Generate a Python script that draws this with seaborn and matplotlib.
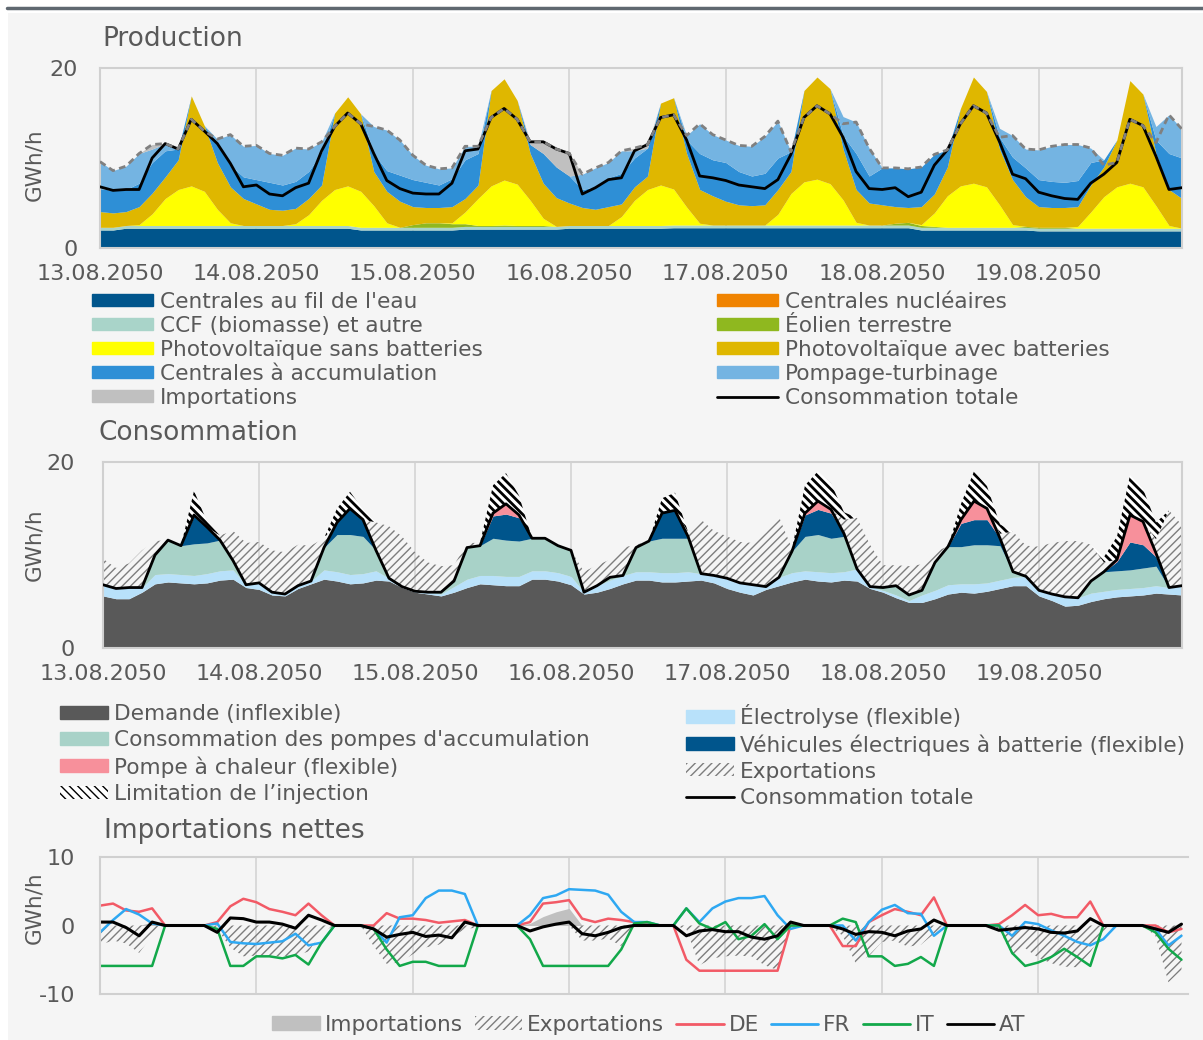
import numpy as np
import pandas as pd
import matplotlib
matplotlib.use("Agg")
import matplotlib.pyplot as plt
import seaborn as sns
from matplotlib.patches import Patch, Rectangle
from matplotlib.lines import Line2D

# ---------------------------------------------------------------- data
# two-hourly steps over one week (13.08.2050 00:00 -> 19.08.2050 22:00)
hours = list(range(0, 168, 2))
day_ticks = [0, 24, 48, 72, 96, 120, 144]
day_labels = ["13.08.2050", "14.08.2050", "15.08.2050", "16.08.2050",
              "17.08.2050", "18.08.2050", "19.08.2050"]

# ---- production (GWh/h)
fil_eau = [2.0, 2.0, 2.2, 2.2, 2.2, 2.2, 2.2, 2.2, 2.2, 2.2, 2.2, 2.2,
           2.2, 2.2, 2.2, 2.2, 2.2, 2.2, 2.2, 2.2, 2.0, 2.0, 2.0, 2.0,
           2.0, 2.0, 2.0, 2.0, 2.1, 2.1, 2.1, 2.1, 2.1, 2.1, 2.1, 2.1,
           2.2, 2.2, 2.2, 2.2, 2.2, 2.2, 2.2, 2.2, 2.25, 2.25, 2.25, 2.25,
           2.25, 2.25, 2.25, 2.25, 2.25, 2.25, 2.25, 2.25, 2.25, 2.25, 2.25, 2.25,
           2.25, 2.25, 2.25, 2.0, 2.0, 2.0, 2.0, 2.0, 2.0, 2.0, 2.0, 2.0,
           1.9, 1.9, 1.9, 1.9, 1.9, 1.9, 1.9, 1.9, 1.9, 1.9, 1.9, 1.9]
nucleaire = [0.0] * 84
ccf = [0.3, 0.3, 0.3, 0.3, 0.3, 0.3, 0.3, 0.3, 0.3, 0.3, 0.3, 0.3,
       0.3, 0.3, 0.3, 0.3, 0.3, 0.3, 0.3, 0.3, 0.3, 0.3, 0.3, 0.3,
       0.3, 0.3, 0.3, 0.3, 0.3, 0.3, 0.3, 0.3, 0.3, 0.3, 0.3, 0.3,
       0.3, 0.3, 0.3, 0.3, 0.3, 0.3, 0.3, 0.3, 0.3, 0.3, 0.3, 0.3,
       0.3, 0.3, 0.3, 0.3, 0.3, 0.3, 0.3, 0.3, 0.3, 0.3, 0.3, 0.3,
       0.3, 0.3, 0.3, 0.3, 0.3, 0.3, 0.3, 0.3, 0.3, 0.3, 0.3, 0.3,
       0.3, 0.3, 0.3, 0.3, 0.3, 0.3, 0.3, 0.3, 0.3, 0.3, 0.3, 0.3]
eolien = [0, 0, 0, 0, 0, 0, 0, 0, 0, 0, 0, 0,
          0, 0, 0, 0, 0, 0, 0, 0, 0, 0, 0, 0,
          0.3, 0.5, 0.5, 0.4, 0.3, 0.1, 0.1, 0.15, 0.1, 0.1, 0.1, 0,
          0, 0, 0, 0, 0, 0, 0, 0, 0, 0, 0, 0,
          0, 0, 0, 0, 0, 0, 0, 0, 0, 0, 0, 0,
          0, 0.2, 0.3, 0.2, 0.1, 0, 0, 0, 0, 0, 0, 0.1,
          0.1, 0.1, 0.1, 0, 0, 0, 0, 0, 0, 0, 0, 0]
pv_sans = [0, 0, 0, 0.1, 1.3, 3.0, 4.0, 4.4, 3.8, 1.8, 0.3, 0,
           0, 0, 0, 0.2, 1.2, 2.8, 4.0, 4.4, 4.0, 2.4, 0.5, 0,
           0, 0, 0, 0.1, 1.3, 3.0, 4.4, 5.0, 4.6, 2.8, 0.8, 0,
           0, 0, 0, 0, 1.0, 2.8, 4.0, 4.5, 4.0, 2.0, 0.2, 0,
           0, 0, 0, 0, 1.2, 3.5, 4.8, 5.1, 4.6, 2.8, 0.3, 0,
           0, 0, 0, 0.1, 1.5, 3.5, 4.6, 4.9, 4.5, 2.5, 0.3, 0,
           0, 0, 0, 0.2, 1.8, 3.5, 4.6, 5.0, 4.6, 2.5, 0.3, 0]
pv_avec = [1.75, 1.6, 1.55, 2.0, 2.3, 2.4, 3.3, 10.0, 7.3, 5.2, 4.0, 3.0,
           2.4, 1.8, 1.7, 1.7, 1.8, 1.7, 8.5, 9.9, 8.6, 3.8, 3.5, 2.9,
           2.0, 1.7, 1.7, 1.8, 1.5, 1.5, 10.6, 11.25, 9.3, 5.2, 3.9, 3.2,
           2.5, 2.0, 1.8, 2.1, 1.4, 1.5, 1.5, 9.1, 10.15, 5.95, 3.75, 3.25,
           2.65, 2.25, 2.15, 2.25, 2.75, 2.45, 10.15, 11.35, 10.55, 5.65, 3.65, 2.45,
           2.25, 1.85, 1.65, 2.0, 2.1, 3.2, 8.6, 11.8, 10.6, 6.2, 5.0, 3.3,
           2.3, 2.2, 2.2, 2.2, 3.0, 3.3, 5.2, 11.4, 10.3, 5.8, 4.0, 3.3]
accumulation = [2.55, 2.5, 2.45, 2.6, 3.4, 2.9, 1.2, 0, 0, 2.0, 2.4, 2.4,
                2.7, 3.0, 2.8, 3.0, 3.0, 3.6, 0, 0, 0, 2.0, 2.3, 2.9,
                3.0, 2.8, 2.5, 3.1, 4.3, 3.5, 0, 0, 0, 1.0, 3.3, 3.4,
                3.0, 2.0, 2.5, 3.2, 3.4, 3.2, 3.1, 0, 0, 1.5, 4.0, 4.0,
                4.3, 3.7, 3.3, 3.5, 3.5, 2.2, 0, 0, 0, 1.5, 4.0, 3.0,
                4.1, 4.3, 4.3, 4.4, 4.4, 1.9, 0, 0, 0, 1.3, 2.5, 3.2,
                3.0, 2.9, 2.8, 2.9, 2.5, 0.8, 0, 0, 0, 1.5, 4.0, 4.5]
pompage = [3.0, 2.2, 2.6, 3.3, 1.5, 0.8, 0, 0, 0, 0.6, 3.4, 3.4,
           3.8, 3.2, 3.3, 3.7, 2.5, 1.2, 0, 0, 0, 3.0, 4.5, 3.9,
           2.7, 1.9, 1.8, 1.2, 1.5, 0.8, 0, 0, 0, 0, 0, 0,
           0, 1.7, 2.1, 1.7, 2.5, 0.8, 0, 0, 0, 0.5, 3.3, 2.8,
           2.5, 2.9, 3.3, 4.1, 4.1, 0, 0, 0, 0, 2.1, 3.5, 3.1,
           0, 0, 0, 0, 0, 0, 0, 0, 0, 1.0, 2.4, 2.1,
           3.3, 3.9, 4.2, 4.0, 1.6, 0, 0, 0, 0, 1.5, 4.3, 3.2]
importations = [0, 0, 0, 0, 0.5, 0, 0, 0, 0, 0, 0, 0,
                0, 0, 0, 0, 0, 0, 0, 0, 0, 0, 0, 0,
                0, 0, 0, 0, 0, 0, 0, 0, 0, 0.3, 1.3, 2.0,
                2.5, 0, 0, 0, 0, 0.3, 0.4, 0, 0, 0, 0, 0,
                0, 0, 0, 0, 0, 0, 0, 0, 0, 0, 0, 0,
                0, 0, 0, 0, 0, 0, 0, 0, 0, 0, 0, 0,
                0, 0, 0, 0, 0, 0, 0, 0, 0, 0, 0, 0]

# ---- consumption (GWh/h)
demande = [5.6, 5.3, 5.3, 6.0, 6.9, 7.1, 7.0, 6.9, 7.0, 7.3, 7.4, 6.5,
           6.3, 5.7, 5.6, 6.4, 6.9, 7.4, 7.2, 6.9, 7.0, 7.3, 7.2, 6.5,
           6.0, 5.8, 5.6, 6.0, 6.5, 6.9, 6.8, 6.7, 6.7, 7.4, 7.4, 7.2,
           6.8, 5.8, 6.0, 6.4, 6.9, 7.3, 7.3, 7.1, 7.1, 7.2, 7.3, 7.0,
           6.4, 6.0, 5.7, 6.3, 6.7, 7.1, 7.4, 7.2, 7.1, 7.3, 7.2, 6.4,
           6.0, 5.4, 4.9, 4.9, 5.3, 5.8, 6.0, 5.9, 6.1, 6.4, 6.7, 6.7,
           5.6, 5.1, 4.5, 4.6, 5.0, 5.3, 5.5, 5.6, 5.7, 5.9, 5.8, 5.7]
electrolyse = [1.2, 1.1, 1.2, 0.5, 1.0, 0.9, 0.9, 0.9, 1.0, 1.0, 1.0, 0.3,
               0.7, 0.3, 0.2, 0.3, 0.3, 1.0, 1.0, 1.0, 1.0, 1.0, 0.3, 0.1,
               0.1, 0.2, 0.2, 0.6, 0.9, 0.9, 1.0, 1.0, 1.0, 0.9, 0.9, 0.9,
               0.9, 0.2, 0.7, 0.9, 0.9, 0.9, 0.9, 1.0, 1.0, 1.0, 0.7, 0.8,
               1.1, 1.0, 1.1, 0.3, 0.9, 1.0, 0.9, 1.0, 1.0, 0.9, 1.3, 0.2,
               0.2, 0.3, 0.2, 0.8, 0.9, 1.0, 0.9, 1.0, 0.9, 0.9, 0.9, 1.0,
               0.6, 0.7, 1.0, 0.8, 0.9, 0.8, 0.8, 0.8, 0.8, 0.8, 0.7, 1.0]
pompes_accumulation = [0, 0, 0, 0, 2.1, 3.6, 3.1, 3.4, 3.3, 3.3, 1.0, 0,
                       0, 0, 0, 0, 0, 2.4, 4.0, 4.3, 4.0, 2.2, 0, 0,
                       0, 0, 0.2, 0.6, 3.4, 3.2, 4.0, 3.9, 3.8, 3.5, 3.5, 2.9,
                       2.8, 0, 0, 0.3, 0, 2.6, 3.3, 3.7, 3.7, 3.6, 0, 0,
                       0, 0, 0, 0, 0, 2.3, 3.7, 4.0, 3.7, 3.8, 0, 0,
                       0.3, 1.0, 0.6, 0.5, 3.0, 4.1, 4.0, 4.2, 4.1, 3.7, 0.6, 0,
                       0, 0, 0, 0, 1.3, 2.1, 2.0, 2.0, 2.1, 2.1, 0, 0]
vehicules = [0, 0, 0, 0, 0, 0, 0, 3.0, 1.7, 0, 0, 0,
             0, 0, 0, 0, 0, 0, 1.3, 2.8, 1.8, 0, 0, 0,
             0, 0, 0, 0, 0, 0, 2.4, 2.8, 2.5, 0, 0, 0,
             0, 0, 0, 0, 0, 0, 0, 2.7, 3.0, 0.2, 0, 0,
             0, 0, 0, 0, 0, 0, 2.3, 2.7, 2.7, 0.3, 0, 0,
             0, 0, 0, 0, 0, 0, 2.5, 2.7, 2.7, 0.8, 0, 0,
             0, 0, 0, 0, 0, 0, 1.0, 3.0, 2.5, 1.0, 0, 0]
pompe_chaleur = [0, 0, 0, 0, 0, 0, 0, 0.1, 0, 0, 0, 0,
                 0, 0, 0, 0, 0, 0, 0, 0, 0, 0, 0, 0,
                 0, 0, 0, 0, 0, 0, 0.3, 1.1, 0.3, 0, 0, 0,
                 0, 0, 0, 0, 0, 0, 0, 0, 0, 0, 0, 0,
                 0, 0, 0, 0, 0, 0, 0.2, 0.9, 0.4, 0, 0, 0,
                 0, 0, 0, 0, 0, 0, 0.4, 2.0, 1.2, 0, 0, 0,
                 0, 0, 0, 0, 0, 0, 0.2, 2.9, 2.5, 0.4, 0, 0]
exportations = [2.8, 2.2, 2.6, 4.0, 1.5, 0, 0, 0, 0, 0.5, 3.2, 4.5,
                4.4, 4.5, 4.5, 4.4, 3.8, 1.0, 0, 0, 0, 3.0, 5.6, 5.4,
                4.2, 3.2, 2.8, 1.7, 0.5, 0.3, 0, 0, 0, 0, 0, 0,
                0, 2.2, 2.2, 1.9, 3.0, 0.3, 0, 0, 0, 0.5, 5.8, 4.8,
                4.5, 4.4, 4.5, 5.8, 6.5, 0.3, 0, 0, 0, 1.5, 5.5, 4.5,
                2.4, 2.2, 3.1, 2.8, 1.2, 0, 0, 0, 0, 0.5, 4.3, 3.3,
                4.7, 5.5, 6.0, 6.1, 3.9, 1.0, 0, 0, 0, 1.5, 8.3, 6.5]
limitation = [0, 0, 0, 0, 0, 0, 0, 2.6, 0.6, 0, 0, 0,
              0, 0, 0, 0, 0, 0, 1.5, 1.8, 1.1, 0, 0, 0,
              0, 0, 0, 0, 0, 0, 3.0, 3.3, 2.1, 0, 0, 0,
              0, 0, 0, 0, 0, 0, 0, 1.6, 1.9, 0, 0, 0,
              0, 0, 0, 0, 0, 0, 3.0, 3.2, 2.8, 0.8, 0, 0,
              0, 0, 0, 0, 0, 0, 1.7, 3.2, 2.4, 1.0, 0, 0,
              0, 0, 0, 0, 0, 0.6, 2.5, 4.3, 3.5, 1.8, 0, 0]

# ---- net imports per neighbour (GWh/h, + = import)
imp_de = [2.9, 3.2, 2.2, 2.0, 2.5, 0, 0, 0, 0, 0.5, 2.8, 3.9,
          3.4, 2.4, 2.0, 1.5, 3.2, 1.5, 0, 0, 0, 0, 1.8, 1.0,
          1.0, 0.8, 0.4, 0.6, 0.8, 0, 0, 0, 0, 0.5, 3.2, 3.4,
          3.7, 1.0, 0.5, 1.0, 0.8, 0.5, 0.3, 0, 0, -5.0, -6.6, -6.6,
          -6.6, -6.6, -6.6, -6.6, -6.6, 0, 0, 0, 0, -3.0, -3.0, 0.5,
          1.5, 2.4, 2.0, 1.5, 4.1, 0, 0, 0, 0, 0.2, 1.5, 3.0,
          1.5, 1.7, 1.2, 1.2, 3.5, 0, 0, 0, 0, 0, -1.0, -0.5]
imp_fr = [-1.0, 0.8, 2.4, 1.6, 0.3, 0, 0, 0, 0, 0.3, -2.4, -2.6,
          -2.7, -2.5, -2.3, -1.2, -2.9, -2.5, 0, 0, 0, -0.5, -2.5, 1.2,
          1.5, 4.0, 5.1, 5.1, 4.6, 0, 0, 0, 0, 1.5, 4.0, 4.4,
          5.3, 5.2, 5.1, 4.5, 2.0, 0.5, 0.5, 0, 0, 2.5, 0.5, 2.5,
          3.5, 4.0, 4.0, 4.3, 1.5, -0.5, 0, 0, 0, 0, -2.2, 0.5,
          2.3, 3.0, 1.8, 1.7, -1.5, 0, 0, 0, 0, 0, -1.5, 0.5,
          0.2, -0.7, -1.5, -2.4, -2.9, -2.0, 0, 0, 0, -0.5, -2.9, -1.5]
imp_it = [-5.9, -5.9, -5.9, -5.9, -5.9, 0, 0, 0, 0, -0.5, -5.9, -5.9,
          -4.5, -4.5, -4.8, -4.3, -5.7, -2.5, 0, 0, 0, -0.5, -3.5, -5.9,
          -5.3, -5.3, -5.9, -5.9, -5.9, 0, 0, 0, 0, -2.0, -5.9, -5.9,
          -5.9, -5.9, -5.9, -5.9, -3.5, 0.3, 0.5, 0, 0, 2.5, 0.3, -0.5,
          0.5, -2.0, -1.5, 0.2, -2.0, 0, 0, 0, 0, 1.0, 0.5, -4.5,
          -4.5, -5.9, -5.6, -4.6, -5.9, 0, 0, 0, 0, 0, -4.0, -5.9,
          -5.4, -4.6, -3.4, -4.6, -5.9, 0, 0, 0, 0, -1.0, -3.4, -5.0]
imp_at = [0.5, 0.5, -0.3, -1.5, 0.5, 0, 0, 0, 0, -1.0, 1.1, 1.0,
          0.5, 0.5, 0.2, -0.4, 1.5, 0.8, 0, 0, 0, -0.5, -1.7, -1.3,
          -1.0, -1.6, -1.4, -1.8, 0.5, 0, 0, 0, 0, -0.8, -0.2, 0.2,
          0.5, -1.2, -1.5, -1.0, -0.3, 0, 0, 0, 0, -1.5, -0.8, -0.6,
          -0.9, -0.9, -1.7, -2.0, -1.5, 0.5, 0, 0, 0, -0.5, -1.3, -0.9,
          -1.0, -1.5, -0.8, -0.5, 0.8, 0, 0, 0, 0, -0.7, -0.5, -0.3,
          -0.5, -1.0, -1.1, -0.8, 1.0, 0, 0, 0, 0, -0.5, -1.0, 0.2]

# ---------------------------------------------------------------- style
sns.set_theme(style="white")
plt.rcParams["font.family"] = ["DejaVu Sans"]
plt.rcParams["hatch.linewidth"] = 1.0

TXT = "#595959"
GRID = "#d9d9d9"
BG = "#f5f5f5"
HATCH_GREY = "#7d7d7d"
EXP_HATCH = "////"
LIM_HATCH = "\\\\\\\\"
FS_LEG = 15.6

col_prod = {
    "fil": "#00558c", "nuc": "#f08300", "ccf": "#a9d4c9", "eol": "#8fb81f",
    "pv_sans": "#ffff00", "pv_avec": "#dfb700", "acc": "#2e8fd6",
    "pomp": "#74b4e2", "imp": "#c0c0c0",
}
col_cons = {
    "dem": "#595959", "elec": "#b8e1fa", "pomp": "#a8d2c8",
    "ve": "#00558c", "pac": "#f7909b",
}
col_pays = {"DE": "#f25a66", "FR": "#2ea8f2", "IT": "#12a84a", "AT": "#000000"}

W, H = 1203, 1040
fig = plt.figure(figsize=(W / 100, H / 100), dpi=100)
fig.patch.set_facecolor("white")
fig.add_artist(Rectangle((8 / W, 0), 1 - 8 / W, 1 - 13 / H, transform=fig.transFigure,
                         facecolor=BG, edgecolor="none", zorder=-10))
fig.add_artist(Line2D([7 / W, 1], [1 - 7.5 / H, 1 - 7.5 / H], transform=fig.transFigure,
                      color="#5f6870", lw=2.5))


def px_axes(left, top, right, bottom):
    return fig.add_axes([left / W, 1 - bottom / H, (right - left) / W, (bottom - top) / H])


def style_axes(ax, xmax, ylim, yticks, show_dates, ypad):
    ax.set_facecolor(BG)
    ax.set_xlim(0, xmax)
    ax.set_ylim(*ylim)
    ax.set_xticks(day_ticks)
    ax.set_yticks(yticks)
    ax.set_yticklabels([str(v) for v in yticks])
    if show_dates:
        ax.set_xticklabels(day_labels)
    else:
        ax.set_xticklabels([])
    ax.grid(axis="x", color=GRID, lw=1.4)
    ax.grid(axis="y", visible=False)
    ax.set_axisbelow(True)
    ax.tick_params(axis="x", length=0, pad=11.5, labelsize=16, colors=TXT)
    ax.tick_params(axis="y", length=0, pad=ypad, labelsize=16, colors=TXT)
    for s in ax.spines.values():
        s.set_color("#d0d0d0")
        s.set_linewidth(1.5)
    ax.set_xlabel("")
    ax.set_ylabel("")


def set_hatch_lw(artist, lw):
    if hasattr(artist, "set_hatch_linewidth"):
        artist.set_hatch_linewidth(lw)


x = np.array(hours, dtype=float)
conso_totale = (np.array(demande) + np.array(electrolyse) + np.array(pompes_accumulation)
                + np.array(vehicules) + np.array(pompe_chaleur))
prod_layers = [fil_eau, nucleaire, ccf, eolien, pv_sans, pv_avec, accumulation, pompage, importations]
prod_top = np.sum(np.array(prod_layers, dtype=float), axis=0)
prod_nette = prod_top - np.array(limitation)

# ---------------------------------------------------------------- production
ax1 = px_axes(100, 68, 1182, 248)
ax1.stackplot(x, *prod_layers,
              colors=[col_prod[k] for k in ["fil", "nuc", "ccf", "eol", "pv_sans",
                                            "pv_avec", "acc", "pomp", "imp"]],
              linewidth=0, antialiased=True)
sns.lineplot(x=x, y=conso_totale, ax=ax1, color="black", lw=2.0, zorder=5)
ax1.plot(x, prod_nette, color="#808080", lw=2.0, dashes=(2.4, 1.6), zorder=6)
style_axes(ax1, 166, (0, 20), [0, 20], True, 16)

# ---------------------------------------------------------------- consumption
ax2 = px_axes(103, 462, 1182, 648)
ax2.stackplot(x, demande, electrolyse, pompes_accumulation, vehicules, pompe_chaleur,
              colors=[col_cons[k] for k in ["dem", "elec", "pomp", "ve", "pac"]],
              linewidth=0)
exp_top = conso_totale + np.array(exportations)
lim_top = exp_top + np.array(limitation)
ax2.fill_between(x, conso_totale, exp_top, facecolor="none", edgecolor=HATCH_GREY,
                 hatch=EXP_HATCH, linewidth=0)
h_lim = ax2.fill_between(x, exp_top, lim_top, facecolor="white", edgecolor="black",
                         hatch=LIM_HATCH, linewidth=0)
set_hatch_lw(h_lim, 2.0)
sns.lineplot(x=x, y=conso_totale, ax=ax2, color="black", lw=2.0, zorder=5)
style_axes(ax2, 166, (0, 20), [0, 20], True, 20)

# ---------------------------------------------------------------- net imports
ax3 = px_axes(100, 857, 1188, 994)
ax3.fill_between(x, 0, importations, facecolor=col_prod["imp"], linewidth=0)
ax3.fill_between(x, -np.array(exportations), 0, facecolor="none", edgecolor=HATCH_GREY,
                 hatch=EXP_HATCH, linewidth=0)
df_pays = pd.DataFrame({
    "h": np.tile(x, 4),
    "pays": np.repeat(["DE", "FR", "IT", "AT"], len(x)),
    "val": np.concatenate([imp_de, imp_fr, imp_it, imp_at]),
})
sns.lineplot(data=df_pays, x="h", y="val", hue="pays", hue_order=["DE", "FR", "IT", "AT"],
             palette=col_pays, ax=ax3, legend=False, lw=1.8)
ax3.lines[-1].set_linewidth(2.2)
style_axes(ax3, 167, (-10, 10), [-10, 0, 10], False, 18)
ax3.spines["right"].set_visible(False)

# ---------------------------------------------------------------- titles & axis labels
fig.text(102 / W, 1 - 39 / H, "Production", fontsize=19, color=TXT, va="center", ha="left")
fig.text(98 / W, 1 - 433 / H, "Consommation", fontsize=19, color=TXT, va="center", ha="left")
fig.text(104 / W, 1 - 831 / H, "Importations nettes", fontsize=19, color=TXT, va="center", ha="left")
for yc in (165, 545, 908):
    fig.text(34 / W, 1 - yc / H, "GWh/h", fontsize=15.5, color=TXT, rotation=90,
             va="center", ha="center")


# ---------------------------------------------------------------- legends
def add_legend(handles, labels, left, top, hlen, hheight, spacing, pad):
    leg = fig.legend(handles, labels, loc="upper left",
                     bbox_to_anchor=(left / W, 1 - top / H), bbox_transform=fig.transFigure,
                     frameon=False, borderpad=0, borderaxespad=0, fontsize=FS_LEG,
                     handlelength=hlen, handleheight=hheight, handletextpad=pad,
                     labelspacing=spacing, labelcolor=TXT)
    return leg


add_legend([Patch(color=col_prod["fil"]), Patch(color=col_prod["ccf"]),
            Patch(color=col_prod["pv_sans"]), Patch(color=col_prod["acc"]),
            Patch(color=col_prod["imp"])],
           ["Centrales au fil de l'eau", "CCF (biomasse) et autre",
            "Photovoltaïque sans batteries", "Centrales à accumulation", "Importations"],
           92, 292, 2.8, 0.5, 0.18, 0.35)
add_legend([Patch(color=col_prod["nuc"]), Patch(color=col_prod["eol"]),
            Patch(color=col_prod["pv_avec"]), Patch(color=col_prod["pomp"]),
            Line2D([], [], color="black", lw=2)],
           ["Centrales nucléaires", "Éolien terrestre", "Photovoltaïque avec batteries",
            "Pompage-turbinage", "Consommation totale"],
           717, 292, 2.8, 0.5, 0.18, 0.35)

exp_handle = Patch(facecolor="none", edgecolor=HATCH_GREY, hatch=EXP_HATCH, linewidth=0)
lim_handle = Patch(facecolor="white", edgecolor="black", hatch=LIM_HATCH, linewidth=0)
set_hatch_lw(lim_handle, 2.0)
add_legend([Patch(color=col_cons["dem"]), Patch(color=col_cons["pomp"]),
            Patch(color=col_cons["pac"]), lim_handle],
           ["Demande (inflexible)", "Consommation des pompes d'accumulation",
            "Pompe à chaleur (flexible)", "Limitation de l’injection"],
           60, 704, 2.2, 0.55, 0.28, 0.3)
add_legend([Patch(color=col_cons["elec"]), Patch(color=col_cons["ve"]), exp_handle,
            Line2D([], [], color="black", lw=2)],
           ["Électrolyse (flexible)", "Véhicules électriques à batterie (flexible)",
            "Exportations", "Consommation totale"],
           686, 704, 2.2, 0.55, 0.28, 0.3)

fig.legend([Patch(color=col_prod["imp"]),
            Patch(facecolor="none", edgecolor=HATCH_GREY, hatch=EXP_HATCH, linewidth=0),
            Line2D([], [], color=col_pays["DE"], lw=2), Line2D([], [], color=col_pays["FR"], lw=2),
            Line2D([], [], color=col_pays["IT"], lw=2), Line2D([], [], color=col_pays["AT"], lw=2)],
           ["Importations", "Exportations", "DE", "FR", "IT", "AT"],
           loc="center", bbox_to_anchor=(649 / W, 1 - 1025 / H), bbox_transform=fig.transFigure,
           ncol=6, frameon=False, borderpad=0, fontsize=FS_LEG, handlelength=2.2, handleheight=0.6,
           handletextpad=0.22, columnspacing=0.55, labelcolor=TXT)

fig.savefig("out.png", dpi=100, facecolor=fig.get_facecolor())
